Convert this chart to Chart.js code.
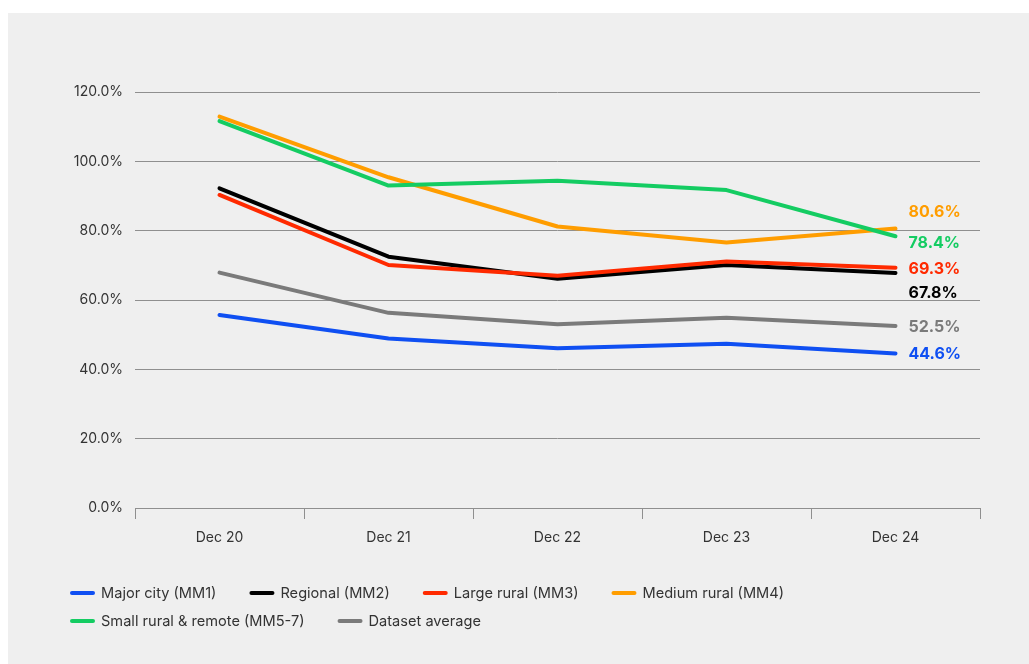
<!DOCTYPE html>
<html>
<head>
<meta charset="utf-8">
<script src="https://cdn.jsdelivr.net/npm/chart.js@4.4.1/dist/chart.umd.min.js"></script>
<style>
  html, body { margin: 0; padding: 0; background: #ffffff; }
  #panel {
    position: absolute; left: 8px; top: 13px;
    width: 1021px; height: 651px;
    background: #efefef;
  }
  #chart { display: block; }
</style>
</head>
<body>
<div id="panel"><canvas id="chart" width="1021" height="651"></canvas></div>
<script>
// Periods on the x axis
const periods = ['Dec 20', 'Dec 21', 'Dec 22', 'Dec 23', 'Dec 24'];

// Series names
const seriesNames = [
  'Major city (MM1)',
  'Regional (MM2)',
  'Large rural (MM3)',
  'Medium rural (MM4)',
  'Small rural & remote (MM5-7)',
  'Dataset average'
];

// Values, percent
const majorCity   = [55.7, 48.9, 46.1, 47.4, 44.6];
const regional    = [92.2, 72.5, 66.1, 70.1, 67.8];
const largeRural  = [90.3, 70.1, 67.0, 71.1, 69.3];
const mediumRural = [112.9, 95.4, 81.2, 76.6, 80.6];
const smallRural  = [111.6, 93.0, 94.4, 91.7, 78.4];
const datasetAvg  = [67.9, 56.3, 53.0, 54.9, 52.5];

// Y axis ticks, percent
const yTicks = [0, 20, 40, 60, 80, 100, 120];

const seriesValues = [majorCity, regional, largeRural, mediumRural, smallRural, datasetAvg];
const seriesColors = ['#0f4ff2', '#000000', '#ff2a00', '#ff9d00', '#14cc62', '#7a7a7a'];
// Vertical nudge (px) of each end label so the labels don't collide
const endLabelNudge = [1, 20, 1, -16, 7, 1];

const FONT = 'Inter, "Noto Sans", sans-serif';

const datasets = seriesNames.map((name, i) => ({
  label: name,
  data: seriesValues[i],
  borderColor: seriesColors[i],
  backgroundColor: seriesColors[i],
  borderWidth: 4,
  borderCapStyle: 'round',
  borderJoinStyle: 'round',
  pointRadius: 0,
  pointHoverRadius: 0,
  tension: 0,
  fill: false,
  order: seriesNames.length - i
}));

// Bold value label to the right of each line's last point
const endLabels = {
  id: 'endLabels',
  afterDatasetsDraw(chart) {
    const ctx = chart.ctx;
    ctx.save();
    ctx.font = '700 16px ' + FONT;
    ctx.textAlign = 'left';
    ctx.textBaseline = 'middle';
    chart.data.datasets.forEach((ds, i) => {
      const meta = chart.getDatasetMeta(i);
      const last = meta.data[meta.data.length - 1];
      const v = ds.data[ds.data.length - 1];
      ctx.fillStyle = ds.borderColor;
      ctx.fillText(v.toFixed(1) + '%', last.x + 13, last.y + endLabelNudge[i]);
    });
    ctx.restore();
  }
};

// Legend under the x axis: short rounded line swatch + label, wrapping rows
const lineLegend = {
  id: 'lineLegend',
  afterDraw(chart) {
    const ctx = chart.ctx;
    const area = chart.chartArea;
    const startX = 62, rowGap = 28, swatch = 25, textGap = 6, itemGap = 33;
    let x = startX, y = area.bottom + 85;
    ctx.save();
    ctx.font = '400 14.6px ' + FONT;
    ctx.textBaseline = 'middle';
    ctx.textAlign = 'left';
    chart.data.datasets.forEach((ds) => {
      const w = swatch + textGap + ctx.measureText(ds.label).width;
      if (x > startX && x + w > area.right) { x = startX; y += rowGap; }
      ctx.strokeStyle = ds.borderColor;
      ctx.lineWidth = 4;
      ctx.lineCap = 'round';
      ctx.beginPath();
      ctx.moveTo(x + 2, y);
      ctx.lineTo(x + swatch - 2, y);
      ctx.stroke();
      ctx.fillStyle = '#333333';
      ctx.fillText(ds.label, x + swatch + textGap, y + 0.5);
      x += w + itemGap;
    });
    ctx.restore();
  }
};

new Chart(document.getElementById('chart'), {
  type: 'line',
  data: { labels: periods, datasets },
  plugins: [endLabels, lineLegend],
  options: {
    responsive: false,
    animation: false,
    events: [],
    layout: { padding: { top: 79, right: 49, bottom: 106, left: 0 } },
    plugins: {
      legend: { display: false },
      tooltip: { enabled: false },
      title: { display: false }
    },
    scales: {
      x: {
        offset: true,
        afterFit(scale) { scale.height = 50; },
        grid: {
          offset: true,
          drawOnChartArea: false,
          drawTicks: true,
          tickLength: 11,
          color: '#8f8f8f',
          lineWidth: 1
        },
        border: { display: true, color: '#8f8f8f', width: 1 },
        ticks: {
          padding: 10,
          color: '#333333',
          font: { family: FONT, size: 14 },
          maxRotation: 0
        }
      },
      y: {
        min: yTicks[0],
        max: yTicks[yTicks.length - 1],
        afterFit(scale) { scale.width = 127; },
        afterBuildTicks(scale) { scale.ticks = yTicks.map(v => ({ value: v })); },
        grid: { drawTicks: false, color: '#8f8f8f', lineWidth: 1 },
        border: { display: false },
        ticks: {
          padding: 12,
          color: '#333333',
          font: { family: FONT, size: 14 },
          callback: (v) => Number(v).toFixed(1) + '%'
        }
      }
    }
  }
});
</script>
</body>
</html>
